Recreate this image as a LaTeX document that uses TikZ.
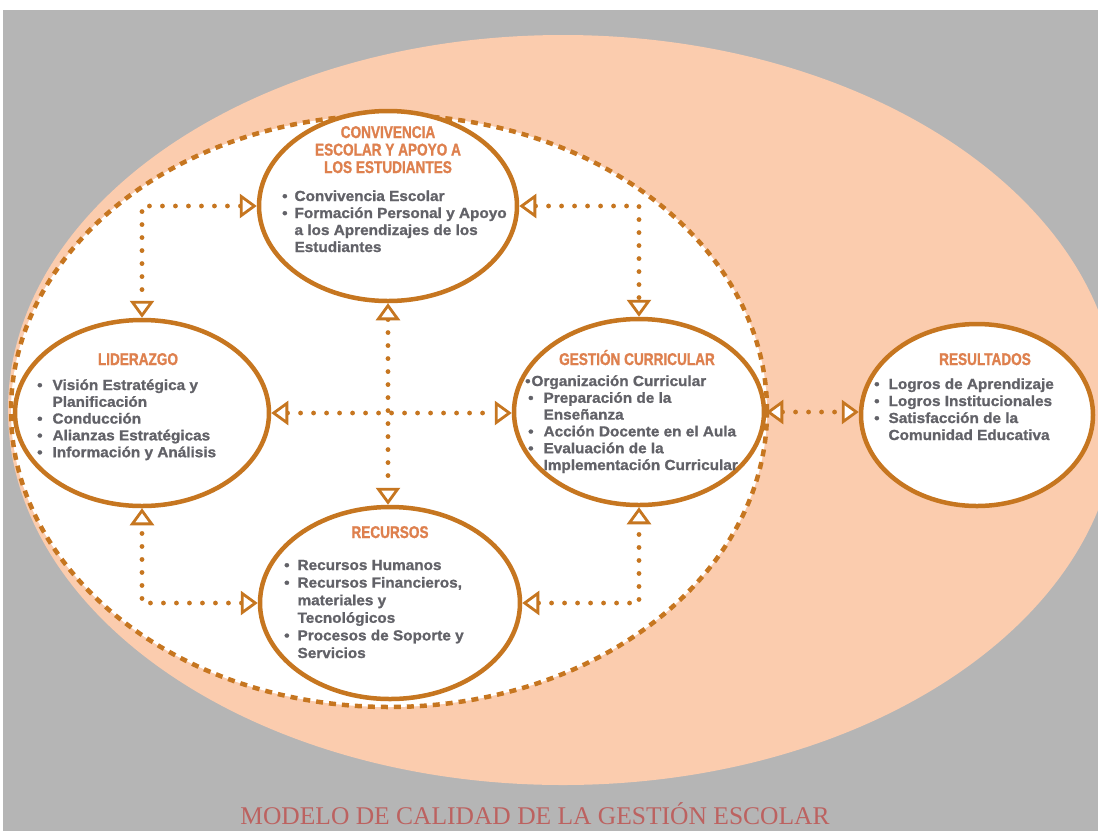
\documentclass[tikz,border=0pt]{standalone}
\usepackage{fontspec}
\setmainfont{Liberation Sans}
\newfontfamily\condfont[FakeStretch=0.80, BoldFeatures={FakeBold=1.2}]{Liberation Sans}
\newfontfamily\bodyfont[FakeStretch=1.05, BoldFeatures={FakeBold=1.2}]{Liberation Sans}
\newfontfamily\capfont{Liberation Serif}
\usetikzlibrary{shapes.geometric,arrows.meta}
\definecolor{bggray}{RGB}{181,181,181}
\definecolor{peach}{RGB}{251,204,174}
\definecolor{ring}{RGB}{198,118,32}
\definecolor{headc}{RGB}{222,128,78}
\definecolor{bodyc}{RGB}{98,98,104}
\definecolor{capc}{RGB}{188,98,96}
\newcommand\myb{\textbullet}
\tikzset{
  area/.style={ellipse, draw=ring, line width=4.5pt, fill=white, inner sep=0pt},
  otip/.tip={Triangle[length=17pt, width=24pt, line width=2.8pt, fill=white]},
  conn/.style={draw=ring, line width=4.8pt, line cap=round, dash pattern=on 0pt off 13pt, otip-otip},
  head/.style={font=\condfont\bfseries\fontsize{17}{17.5}\selectfont, text=headc, inner sep=0pt, anchor=base},
  body/.style={font=\bodyfont\bfseries\fontsize{14.6}{17}\selectfont, text=bodyc, inner sep=0pt, anchor=base west},
}
\begin{document}
\begin{tikzpicture}[x=1pt,y=-1pt]
\useasboundingbox (0,0) rectangle (1098,831);
\fill[white] (0,0) rectangle (1098,831);
\begin{scope}
  \clip (3,10) rectangle (1098,831);
  \fill[bggray] (3,10) rectangle (1098,831);
  \fill[peach] (563,410) ellipse [x radius=555pt, y radius=375pt];
\end{scope}
\draw[ring, fill=white, line width=4.5pt, dash pattern=on 7pt off 6pt] (389,411) ellipse [x radius=378pt, y radius=296pt];

% areas
\node[area, minimum width=258pt, minimum height=190pt] (conv) at (388,206) {};
\node[area, minimum width=254pt, minimum height=186pt] (lid) at (142,413) {};
\node[area, minimum width=250pt, minimum height=186pt] (ges) at (639,412) {};
\node[area, minimum width=260pt, minimum height=192pt] (rec) at (390,603) {};
\node[area, minimum width=232pt, minimum height=182pt] (res) at (977,415) {};

% connectors
\draw[conn] (conv.west) -| (lid.north);
\draw[conn] (conv.east) -| (ges.north);
\draw[conn] (rec.west) -| (lid.south);
\draw[conn] (rec.east) -| (ges.south);
\draw[conn] (conv.south) -- (conv.south |- rec.north);
\draw[conn] (lid.east) -- (lid.east -| ges.west);
\draw[conn] (ges.east) -- (ges.east -| res.west);

% headings
\node[head] (convh) at (388,138) {\begin{tabular}[t]{@{}c@{}}CONVIVENCIA\\ESCOLAR Y APOYO A\\LOS ESTUDIANTES\end{tabular}};
\node[head] (lidh) at (138,365) {LIDERAZGO};
\node[head] (gesh) at (637,365) {GESTIÓN CURRICULAR};
\node[head] (resh) at (985,365) {RESULTADOS};
\node[head] (rech) at (390,538) {RECURSOS};

% bodies
\node[body] (convb) at (282,201) {\begin{tabular}[t]{@{}l@{\hspace{7pt}}l@{}}
\myb & Convivencia Escolar\\
\myb & Formación Personal y Apoyo\\
 & a los Aprendizajes de los\\
 & Estudiantes\end{tabular}};
\node[body, font=\bodyfont\bfseries\fontsize{14.6}{16.8}\selectfont] (lidb) at (37,390) {\begin{tabular}[t]{@{}l@{\hspace{10pt}}l@{}}
\myb & Visión Estratégica y\\
 & Planificación\\
\myb & Conducción\\
\myb & Alianzas Estratégicas\\
\myb & Información y Análisis\end{tabular}};
\node[body, font=\bodyfont\bfseries\fontsize{14.6}{16.8}\selectfont] (gesb) at (525,386) {\begin{tabular}[t]{@{}l@{}}
\myb\hspace{1pt}Organización Curricular\\
\hspace{3pt}\myb\hspace{10pt}Preparación de la\\
\hspace{3pt}\phantom{\myb}\hspace{10pt}Enseñanza\\
\hspace{3pt}\myb\hspace{10pt}Acción Docente en el Aula\\
\hspace{3pt}\myb\hspace{10pt}Evaluación de la\\
\hspace{3pt}\phantom{\myb}\hspace{10pt}Implementación Curricular\end{tabular}};
\node[body] (resb) at (874,389) {\begin{tabular}[t]{@{}l@{\hspace{9pt}}l@{}}
\myb & Logros de Aprendizaje\\
\myb & Logros Institucionales\\
\myb & Satisfacción de la\\
 & Comunidad Educativa\end{tabular}};
\node[body, font=\bodyfont\bfseries\fontsize{14.6}{17.6}\selectfont] (recb) at (284,570) {\begin{tabular}[t]{@{}l@{\hspace{8pt}}l@{}}
\myb & Recursos Humanos\\
\myb & Recursos Financieros,\\
 & materiales y\\
 & Tecnológicos\\
\myb & Procesos de Soporte y\\
 & Servicios\end{tabular}};

% caption
\node[font=\capfont\fontsize{25.5}{28}\selectfont, text=capc, anchor=base] (cap) at (535,824) {MODELO DE CALIDAD DE LA GESTIÓN ESCOLAR};
\end{tikzpicture}
\end{document}
